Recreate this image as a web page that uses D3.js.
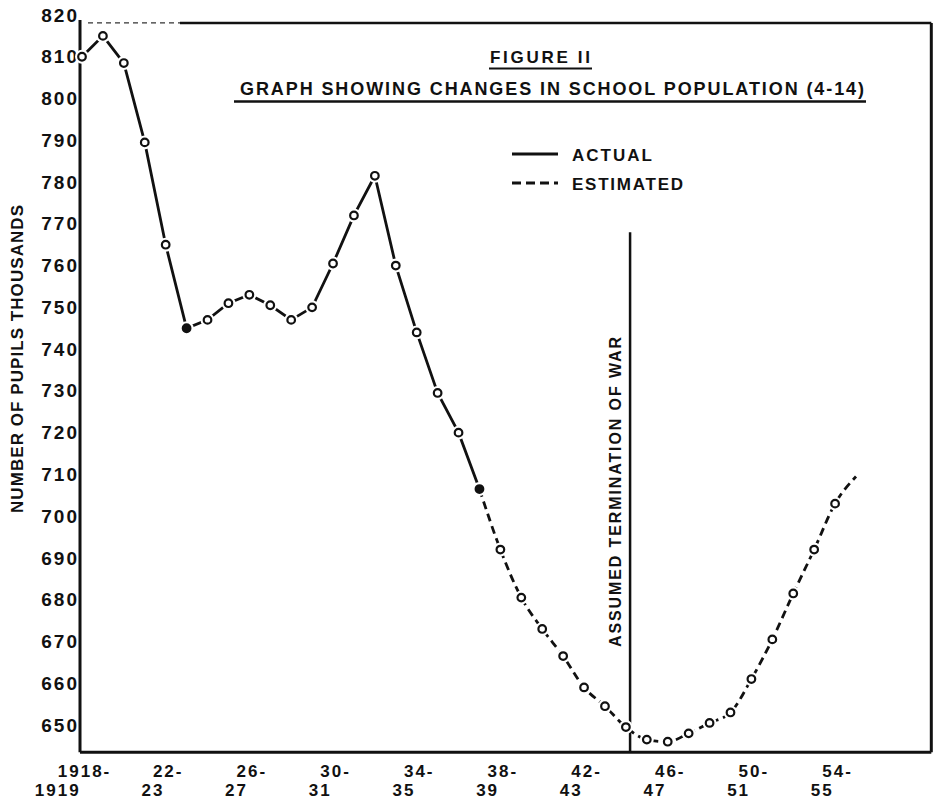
<!DOCTYPE html>
<html>
<head>
<meta charset="utf-8">
<script src="https://cdn.jsdelivr.net/npm/d3@7"></script>
<style>
  body { margin: 0; background: #fff; }
  text { font-family: "Liberation Sans", Arial, sans-serif; font-weight: bold; fill: #111; }
</style>
</head>
<body>
<div id="chart"></div>
<script>
// school population (4-14), thousands
const actualYears = d3.range(1918, 1938)
const actualValues = [810, 815, 808.5, 789.5, 765, 745, 747, 751, 753, 750.5,
                      747, 750, 760.5, 772, 781.5, 760, 744, 729.5, 720, 706.5]
const estYears = d3.range(1937, 1956)
const estValues = [706.5, 692, 680.5, 673, 666.5, 659, 654.5, 649.5, 646.5, 646,
                   648, 650.5, 653, 661, 670.5, 681.5, 692, 703, 709.5]
const filledYears = [1923, 1937]
const unmarkedYears = [1955]

const yTicks = [650, 660, 670, 680, 690, 700, 710, 720, 730, 740, 750, 760, 770, 780, 790, 800, 810, 820]
const xTickYears = [1918, 1922, 1926, 1930, 1934, 1938, 1942, 1946, 1950, 1954]
const xTickTop = ["1918-", "22-", "26-", "30-", "34-", "38-", "42-", "46-", "50-", "54-"]
const xTickBottom = ["1919", "23", "27", "31", "35", "39", "43", "47", "51", "55"]
const warYear = 1944.2
const warTop = 768

const W = 941, H = 802

const svg = d3.select("#chart").append("svg")
    .attr("width", W).attr("height", H)

// scales
const x = d3.scaleLinear().domain([1918, 1955]).range([82, 856])
const y = d3.scaleLinear().domain([650, 820]).range([725, 15])

const frame = {left: 80, right: x(1958.6), top: y(818.1), bottom: y(643.5)}

// frame
svg.append("line")
    .attr("x1", frame.left).attr("x2", frame.left)
    .attr("y1", frame.top - 3).attr("y2", frame.bottom)
    .attr("stroke", "#111").attr("stroke-width", 3)
svg.append("line")
    .attr("x1", frame.left).attr("x2", frame.right)
    .attr("y1", frame.bottom).attr("y2", frame.bottom)
    .attr("stroke", "#111").attr("stroke-width", 3)
svg.append("line")
    .attr("x1", frame.right).attr("x2", frame.right)
    .attr("y1", frame.top).attr("y2", frame.bottom)
    .attr("stroke", "#111").attr("stroke-width", 3)
svg.append("line")
    .attr("x1", frame.left + 8).attr("x2", 180)
    .attr("y1", frame.top).attr("y2", frame.top)
    .attr("stroke", "#333").attr("stroke-width", 1.2)
    .attr("stroke-dasharray", "5,4")
svg.append("line")
    .attr("x1", 180).attr("x2", frame.right)
    .attr("y1", frame.top).attr("y2", frame.top)
    .attr("stroke", "#111").attr("stroke-width", 2.5)

// y axis
const yAxis = d3.axisLeft(y).tickValues(yTicks).tickSize(0).tickPadding(1)
const yG = svg.append("g")
    .attr("transform", `translate(${frame.left},0)`)
    .call(yAxis)
yG.select(".domain").remove()
yG.selectAll("text")
    .style("font-size", "19px")
    .style("letter-spacing", "2px")
    .attr("fill", "#111")

// x axis (two-line labels)
const xAxis = d3.axisBottom(x).tickValues(xTickYears).tickSize(0).tickFormat("")
const xG = svg.append("g")
    .attr("transform", `translate(0,${frame.bottom})`)
    .call(xAxis)
xG.select(".domain").remove()
xG.selectAll(".tick").each(function(d, i){
    let g = d3.select(this)
    let t1 = g.append("text")
        .attr("x", 2).attr("y", 25)
        .attr("text-anchor", "middle")
        .style("font-size", "17px")
        .style("letter-spacing", "2px")
        .text(xTickTop[i])
    let bb = t1.node().getBBox()
    g.append("text")
        .attr("x", bb.x).attr("y", 44)
        .style("font-size", "17px")
        .style("letter-spacing", "2px")
        .text(xTickBottom[i])
})

// y axis title
svg.append("text")
    .attr("transform", `translate(23,${(205 + 513) / 2}) rotate(-90)`)
    .attr("text-anchor", "middle")
    .attr("textLength", 308).attr("lengthAdjust", "spacing")
    .style("font-size", "17px")
    .text("NUMBER OF PUPILS THOUSANDS")

// titles
svg.append("text")
    .attr("x", 490).attr("y", 63)
    .attr("textLength", 100).attr("lengthAdjust", "spacing")
    .style("font-size", "17px")
    .text("FIGURE II")
svg.append("line")
    .attr("x1", 489).attr("x2", 592).attr("y1", 68.5).attr("y2", 68.5)
    .attr("stroke", "#111").attr("stroke-width", 2)

svg.append("text")
    .attr("x", 240).attr("y", 95)
    .attr("textLength", 624).attr("lengthAdjust", "spacing")
    .style("font-size", "18px")
    .text("GRAPH SHOWING CHANGES IN SCHOOL POPULATION (4-14)")
svg.append("line")
    .attr("x1", 234).attr("x2", 866).attr("y1", 101.5).attr("y2", 101.5)
    .attr("stroke", "#111").attr("stroke-width", 2.5)

// legend
const legend = [
    {label: "ACTUAL", dash: null, y: 154, len: 80},
    {label: "ESTIMATED", dash: "9,5", y: 183, len: 111}
]
legend.forEach(l=>{
    svg.append("line")
        .attr("x1", 512).attr("x2", 558).attr("y1", l.y).attr("y2", l.y)
        .attr("stroke", "#111").attr("stroke-width", 3)
        .attr("stroke-dasharray", l.dash)
    svg.append("text")
        .attr("x", 572).attr("y", l.y + 6.5)
        .attr("textLength", l.len).attr("lengthAdjust", "spacing")
        .style("font-size", "17px")
        .text(l.label)
})

// war line
svg.append("line")
    .attr("x1", x(warYear)).attr("x2", x(warYear))
    .attr("y1", y(warTop)).attr("y2", frame.bottom)
    .attr("stroke", "#111").attr("stroke-width", 2.5)
svg.append("text")
    .attr("transform", `translate(${x(warYear) - 9},${(337 + 647) / 2}) rotate(-90)`)
    .attr("text-anchor", "middle")
    .attr("textLength", 310).attr("lengthAdjust", "spacing")
    .style("font-size", "16px")
    .text("ASSUMED TERMINATION OF WAR")

// series
const actual = actualYears.map((d,i)=>({year: d, value: actualValues[i]}))
const estimated = estYears.map((d,i)=>({year: d, value: estValues[i]}))

const line = d3.line()
    .x(d=>x(d.year))
    .y(d=>y(d.value))

svg.append("path")
    .datum(actual)
    .attr("d", line)
    .attr("fill", "none").attr("stroke", "#111").attr("stroke-width", 2.8)
svg.append("path")
    .datum(estimated)
    .attr("d", line.curve(d3.curveMonotoneX))
    .attr("fill", "none").attr("stroke", "#111").attr("stroke-width", 2.8)
    .attr("stroke-dasharray", "8,5")

// markers: white halo then open circle
let pts = actual.concat(estimated.slice(1)).filter(d=>!unmarkedYears.includes(d.year))
svg.append("g").selectAll("circle")
    .data(pts)
    .join("circle")
    .attr("cx", d=>x(d.year)).attr("cy", d=>y(d.value))
    .attr("r", 7)
    .attr("fill", "#fff")
svg.append("g").selectAll("circle")
    .data(pts)
    .join("circle")
    .attr("cx", d=>x(d.year)).attr("cy", d=>y(d.value))
    .attr("r", 3.8)
    .attr("fill", d=>filledYears.includes(d.year) ? "#111" : "#fff")
    .attr("stroke", "#111").attr("stroke-width", 2.2)
</script>
</body>
</html>
